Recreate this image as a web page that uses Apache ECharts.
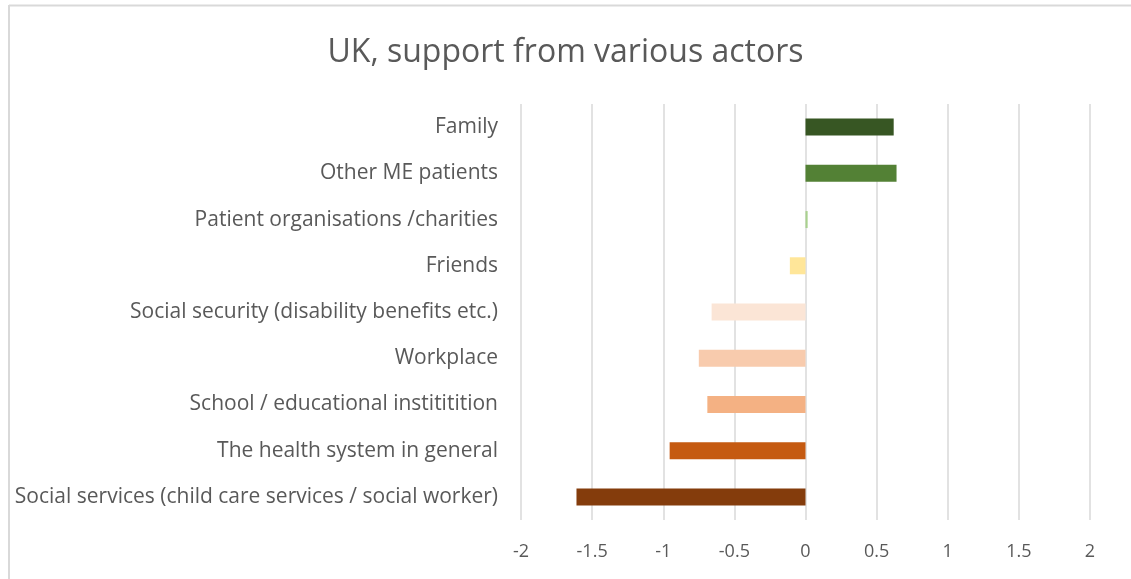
<!DOCTYPE html>
<html>
<head>
<meta charset="utf-8">
<script src="https://cdn.jsdelivr.net/npm/echarts@6/dist/echarts.min.js"></script>
<style>
html,body{margin:0;padding:0;background:#fff;}
#chart{width:1131px;height:579px;}
</style>
</head>
<body>
<div id="chart"></div>
<script>
const categories = [
  "Family",
  "Other ME patients",
  "Patient organisations /charities",
  "Friends",
  "Social security (disability benefits etc.)",
  "Workplace",
  "School / educational instititition",
  "The health system in general",
  "Social services (child care services / social worker)"
];
const values = [0.62, 0.64, 0.015, -0.11, -0.66, -0.75, -0.69, -0.955, -1.61];
const colors = ["#375623", "#538135", "#a9d18e", "#ffe699", "#fbe5d6", "#f8cbad", "#f4b183", "#c55a11", "#843c0c"];
const xTicks = { min: -2, max: 2, interval: 0.5 };

const chart = echarts.init(document.getElementById('chart'), null, {renderer: 'canvas'});
const font = "'Open Sans', 'Noto Sans', sans-serif";
chart.setOption({
  animation: false,
  backgroundColor: '#fff',
  title: {
    text: 'UK, support from various actors',
    left: 'center',
    top: 32,
    textStyle: {fontFamily: font, fontSize: 32, fontWeight: 'normal', color: '#595959'}
  },
  graphic: [
    {type: 'line', shape: {x1: 9, y1: 5.5, x2: 1131, y2: 5.5}, style: {stroke: '#d9d9d9', lineWidth: 2}},
    {type: 'line', shape: {x1: 9, y1: 5, x2: 9, y2: 579}, style: {stroke: '#d9d9d9', lineWidth: 2}}
  ],
  grid: {left: 521, right: 41, top: 104, bottom: 59, containLabel: false},
  xAxis: {
    type: 'value',
    min: xTicks.min, max: xTicks.max, interval: xTicks.interval,
    axisLine: {show: false},
    axisTick: {show: false},
    splitLine: {show: true, lineStyle: {color: '#d9d9d9', width: 1.5}},
    axisLabel: {fontFamily: font, fontSize: 18, color: '#595959', margin: 23}
  },
  yAxis: {
    type: 'category',
    data: categories,
    inverse: true,
    axisLine: {show: false},
    axisTick: {show: false},
    splitLine: {show: false},
    axisLabel: {fontFamily: font, fontSize: 21, color: '#595959', margin: 23, padding: [3, 0, 0, 0]}
  },
  series: [{
    type: 'bar',
    barWidth: 17,
    data: values.map((v, i) => ({value: v, itemStyle: {color: colors[i]}}))
  }]
});
</script>
</body>
</html>
